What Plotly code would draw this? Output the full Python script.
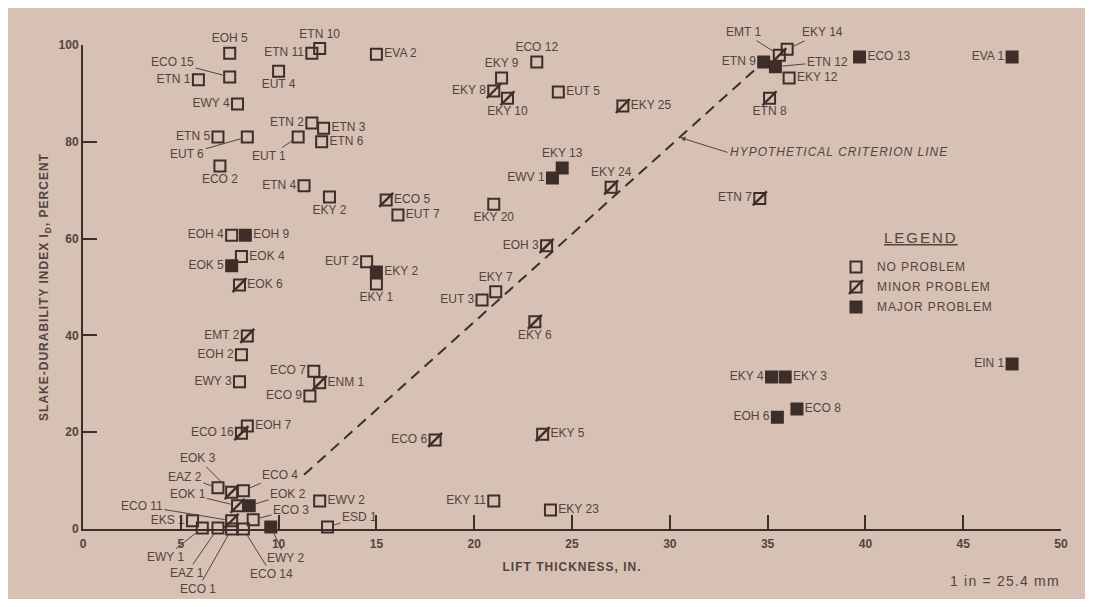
import plotly.graph_objects as go

# ---------------- data ----------------
no_names = ["EOH 5", "ECO 15", "ETN 1", "EWY 4", "ETN 5", "EUT 6", "ECO 2", "ETN 10", "ETN 11", "EUT 4",
            "ETN 2", "ETN 3", "ETN 6", "EUT 1", "ETN 4", "EKY 2", "EOH 4", "EOK 4", "EVA 2", "ECO 12",
            "EKY 9", "EUT 5", "EUT 7", "EKY 20", "EUT 2", "EKY 1", "EKY 7", "EUT 3", "EKY 14", "EKY 12",
            "EOH 2", "EWY 3", "ECO 7", "ECO 9", "EOH 7", "EAZ 2", "ECO 4", "EWV 2", "ECO 3", "EKS 1",
            "EWY 1", "EAZ 1", "ECO 1", "ECO 14", "ESD 1", "EKY 11", "EKY 23"]
no_x = [7.5, 7.5, 5.9, 7.9, 6.9, 8.4, 7.0, 12.1, 11.7, 10.0,
        11.7, 12.3, 12.2, 11.0, 11.3, 12.6, 7.6, 8.1, 15.0, 23.2,
        21.4, 24.3, 16.1, 21.0, 14.5, 15.0, 21.1, 20.4, 36.0, 36.1,
        8.1, 8.0, 11.8, 11.6, 8.4, 6.9, 8.2, 12.1, 8.7, 5.6,
        6.1, 6.9, 7.6, 8.2, 12.5, 21.0, 23.9]
no_y = [98.3, 93.4, 92.8, 87.8, 81.0, 81.0, 75.0, 99.3, 98.3, 94.6,
        83.9, 82.8, 80.0, 81.0, 70.9, 68.6, 60.7, 56.3, 98.1, 96.5,
        93.2, 90.3, 64.9, 67.1, 55.2, 50.6, 49.0, 47.3, 99.1, 93.2,
        36.0, 30.4, 32.6, 27.5, 21.3, 8.5, 7.9, 5.8, 1.9, 1.7,
        0.2, 0.2, 0.0, 0.0, 0.4, 5.8, 3.9]

minor_names = ["EOK 6", "EKY 8", "EKY 10", "EKY 25", "EKY 24", "ECO 5", "EOH 3", "EMT 1", "ETN 8", "ETN 7",
               "EKY 6", "ECO 6", "EKY 5", "EMT 2", "ENM 1", "ECO 16", "EOK 3", "EOK 1", "ECO 11"]
minor_x = [8.0, 21.0, 21.7, 27.6, 27.0, 15.5, 23.7, 35.6, 35.1, 34.6,
           23.1, 18.0, 23.5, 8.4, 12.1, 8.1, 7.6, 7.9, 7.6]
minor_y = [50.4, 90.5, 89.0, 87.4, 70.6, 68.0, 58.5, 97.9, 89.0, 68.3,
           42.8, 18.4, 19.6, 39.9, 30.2, 19.8, 7.6, 4.8, 1.7]

major_names = ["EOH 9", "EOK 5", "EKY 13", "EWV 1", "EKY 2", "ETN 9", "ETN 12", "ECO 13", "EVA 1", "EIN 1",
               "EKY 4", "EKY 3", "ECO 8", "EOH 6", "EOK 2", "EWY 2"]
major_x = [8.3, 7.6, 24.5, 24.0, 15.0, 34.8, 35.4, 39.7, 47.5, 47.5,
           35.2, 35.9, 36.5, 35.5, 8.5, 9.6]
major_y = [60.7, 54.4, 74.6, 72.5, 53.1, 96.5, 95.5, 97.5, 97.5, 34.1,
           31.4, 31.4, 24.8, 23.1, 4.8, 0.4]

criterion_x = [11.3, 34.6]
criterion_y = [11.2, 95.8]

x_ticks = [0, 5, 10, 15, 20, 25, 30, 35, 40, 45, 50]
y_ticks = [0, 20, 40, 60, 80, 100]
legend_labels = ["NO PROBLEM", "MINOR PROBLEM", "MAJOR PROBLEM"]

# ---------------- label placement (layout, not data) ----------------
LABEL_POS = {
    "no": {"EOH 5": "top center", "ETN 1": "middle left", "EWY 4": "middle left", "ETN 5": "middle left",
           "ECO 2": "bottom center", "ETN 10": "top center", "ETN 11": "middle left", "EUT 4": "bottom center",
           "ETN 2": "middle left", "ETN 4": "middle left", "EKY 2": "bottom center", "EOH 4": "middle left",
           "ECO 12": "top center", "EKY 9": "top center", "EKY 20": "bottom center", "EUT 2": "middle left",
           "EKY 1": "bottom center", "EKY 7": "top center", "EUT 3": "middle left", "EOH 2": "middle left",
           "EWY 3": "middle left", "ECO 7": "middle left", "ECO 9": "middle left", "EKS 1": "middle left",
           "EKY 11": "middle left"},
    "minor": {"EKY 8": "middle left", "EKY 10": "bottom center", "EKY 24": "top center", "EOH 3": "middle left",
              "ETN 8": "bottom center", "ETN 7": "middle left", "EKY 6": "bottom center", "ECO 6": "middle left",
              "EMT 2": "middle left", "ECO 16": "middle left"},
    "major": {"EOK 5": "middle left", "EKY 13": "top center", "EWV 1": "middle left", "ETN 9": "middle left",
              "EVA 1": "middle left", "EIN 1": "middle left", "EKY 4": "middle left", "EOH 6": "middle left"},
}
LEADERS = {
    "no": {"ECO 15": (-57, -15), "EUT 6": (-60, 17), "EUT 1": (-29, 19), "EKY 14": (35, -17),
           "EAZ 2": (-33, -11), "ECO 4": (37, -16), "ECO 3": (38, -10), "EWY 1": (-37, 29),
           "EAZ 1": (-31, 45), "ECO 1": (-34, 60), "ECO 14": (28, 45), "ESD 1": (32, -10)},
    "minor": {"EMT 1": (-36, -23), "EOK 3": (-34, -34), "EOK 1": (-50, -12), "ECO 11": (-90, -15)},
    "major": {"ETN 12": (52, -5), "EOK 2": (39, -12), "EWY 2": (15, 31)},
}

# ---------------- styling ----------------
OFF = 8                      # page body margin of the browser
W, H = 1093 - 2 * OFF, 607 - 2 * OFF
ML, MR, MT, MB = 83 - OFF, 32 - OFF, 45 - OFF, 78 - OFF
PW, PH = W - ML - MR, H - MT - MB
BG = "#d7c0b4"
INK = "#3e2e2a"
TEXT = "#54443e"
FONT = "Liberation Sans"
SIZE = 11


def spaced(s, px):
    return '<span style="letter-spacing:%spx">%s</span>' % (px, s)


def px_x(p):  # screen pixel -> paper fraction
    return (p - OFF - ML) / PW


def px_y(p):
    return (H - MB - (p - OFF)) / PH


def add_marks(fig, kind, xs, ys, text=None, textpos=None, xaxis="x", yaxis="y"):
    if kind == "major":
        marker = dict(symbol="square", size=SIZE, color=INK, line=dict(color=INK, width=2))
    else:
        marker = dict(symbol="square-open", size=SIZE, color=INK, line=dict(color=INK, width=2))
    fig.add_trace(go.Scatter(
        x=xs, y=ys, mode="markers+text" if text is not None else "markers",
        text=text, textposition=textpos,
        textfont=dict(family=FONT, size=12, color=TEXT),
        marker=marker, cliponaxis=False, hoverinfo="skip", showlegend=False,
        xaxis=xaxis, yaxis=yaxis))
    if kind == "minor":
        fig.add_trace(go.Scatter(
            x=xs, y=ys, mode="markers",
            marker=dict(symbol="line-ne", size=14, color=INK, line=dict(color=INK, width=2.4)),
            cliponaxis=False, hoverinfo="skip", showlegend=False, xaxis=xaxis, yaxis=yaxis))


fig = go.Figure()

# criterion line
fig.add_trace(go.Scatter(x=criterion_x, y=criterion_y, mode="lines",
                         line=dict(color=INK, width=2, dash="11px,7px"),
                         hoverinfo="skip", showlegend=False))

groups = [("no", no_names, no_x, no_y), ("minor", minor_names, minor_x, minor_y),
          ("major", major_names, major_x, major_y)]
for kind, names, xs, ys in groups:
    txt = [None if n in LEADERS[kind] else n for n in names]
    pos = [LABEL_POS[kind].get(n, "middle right") for n in names]
    add_marks(fig, kind, xs, ys, txt, pos)
    for n, x, y in zip(names, xs, ys):
        if n in LEADERS[kind]:
            ax, ay = LEADERS[kind][n]
            fig.add_annotation(x=x, y=y, text=n, ax=ax, ay=ay, showarrow=True, arrowhead=0,
                               arrowwidth=1, arrowcolor=TEXT, standoff=7,
                               font=dict(family=FONT, size=12, color=TEXT))

# legend swatches on a hidden category axis
for kind, lab in zip(["no", "minor", "major"], legend_labels):
    add_marks(fig, kind, [0], [lab], xaxis="x2", yaxis="y2")

# criterion annotation
ax_pt = 30.5
ay_pt = criterion_y[0] + (ax_pt - criterion_x[0]) * (criterion_y[1] - criterion_y[0]) / (criterion_x[1] - criterion_x[0])
fig.add_annotation(x=ax_pt, y=ay_pt, text="<i>" + spaced("HYPOTHETICAL CRITERION LINE", 1) + "</i>",
                   ax=48, ay=15, xanchor="left", showarrow=True, arrowhead=2, arrowsize=1,
                   arrowwidth=1, arrowcolor=TEXT, standoff=1,
                   font=dict(family=FONT, size=12, color=TEXT))

fig.add_annotation(xref="paper", yref="paper", x=px_x(921), y=px_y(237), xanchor="center",
                   yanchor="middle", text="<u>" + spaced("LEGEND", 2) + "</u>",
                   showarrow=False, font=dict(family=FONT, size=15, color=TEXT))
fig.add_annotation(xref="paper", yref="paper", x=px_x(1062), y=px_y(581), xanchor="right",
                   yanchor="middle", text=spaced("1 in = 25.4 mm", 1.2), showarrow=False,
                   font=dict(family=FONT, size=14, color=TEXT))

fig.update_layout(
    width=W, height=H, autosize=False,
    margin=dict(l=ML, r=MR, t=MT, b=MB, pad=0),
    paper_bgcolor=BG, plot_bgcolor=BG, showlegend=False,
    xaxis=dict(range=[0, 50], tickmode="array", tickvals=x_ticks, ticks="inside", ticklen=14, tickwidth=2,
               tickcolor=INK, showline=True, linewidth=2, linecolor=INK, showgrid=False, zeroline=False,
               ticklabelstandoff=3,
               tickfont=dict(family=FONT, size=12, color=TEXT, weight="bold"),
               title=dict(text=spaced("LIFT THICKNESS, IN.", 1), standoff=12,
                          font=dict(family=FONT, size=12, color=TEXT, weight="bold"))),
    yaxis=dict(range=[0, 100], tickmode="array", tickvals=y_ticks, ticks="inside", ticklen=14, tickwidth=2,
               tickcolor=INK, showline=True, linewidth=2, linecolor=INK, showgrid=False, zeroline=False,
               tickfont=dict(family=FONT, size=12, color=TEXT, weight="bold"),
               title=dict(text=spaced("SLAKE-DURABILITY INDEX I<sub>D</sub>, PERCENT", 1), standoff=7,
                          font=dict(family=FONT, size=12, color=TEXT, weight="bold"))),
    xaxis2=dict(domain=[px_x(846), px_x(866)], range=[-1, 1], anchor="y2", visible=False),
    yaxis2=dict(domain=[px_y(307), px_y(267)], type="category", categoryarray=legend_labels,
                range=[2, 0], anchor="x2", side="right", showline=False, showgrid=False,
                zeroline=False, ticks="", ticklabelstandoff=10,
                tickmode="array", tickvals=legend_labels,
                ticktext=[spaced(l, 0.9) for l in legend_labels],
                tickfont=dict(family=FONT, size=12, color=TEXT)),
)

fig.write_html("out.html")
